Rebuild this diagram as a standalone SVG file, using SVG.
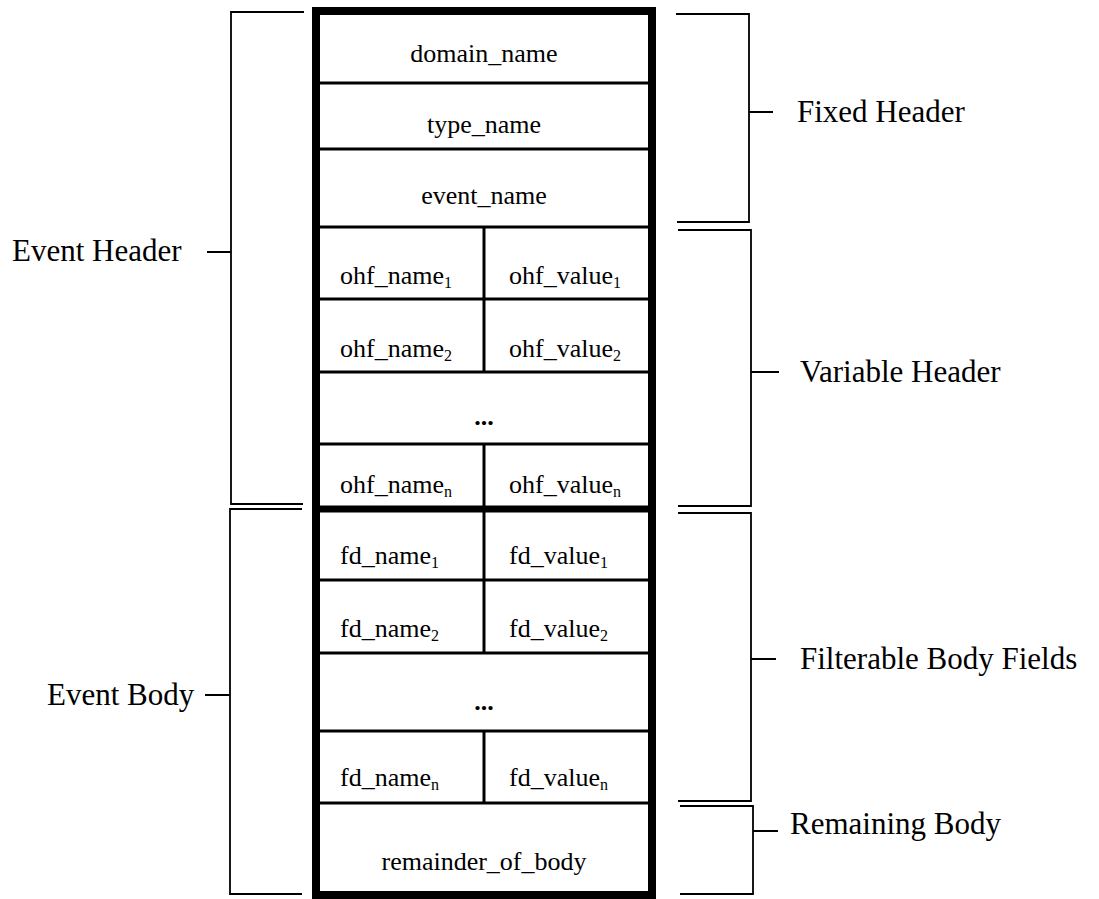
<svg xmlns="http://www.w3.org/2000/svg" width="1099" height="899" viewBox="0 0 1099 899">
<style>
.cell{font-family:"Liberation Serif","Times New Roman",serif;font-size:26px;fill:#000}
.lbl{font-family:"Liberation Serif","Times New Roman",serif;font-size:31px;fill:#000}
.sub{font-size:16px}
.dots{font-weight:bold}
.thin{stroke:#000;stroke-width:3;fill:none}
.br{stroke:#000;stroke-width:1.8;fill:none}
</style>
<rect width="1099" height="899" fill="#fff"/>
<g id="record">
<rect x="316" y="11" width="336" height="884" fill="#fff" stroke="#000" stroke-width="8"/>
<line class="thin" x1="316" y1="83" x2="652" y2="83"/>
<line class="thin" x1="316" y1="149" x2="652" y2="149"/>
<line class="thin" x1="316" y1="227" x2="652" y2="227"/>
<line class="thin" x1="316" y1="299" x2="652" y2="299"/>
<line class="thin" x1="316" y1="372" x2="652" y2="372"/>
<line class="thin" x1="316" y1="444" x2="652" y2="444"/>
<line x1="316" y1="509" x2="652" y2="509" stroke="#000" stroke-width="7"/>
<line class="thin" x1="316" y1="580" x2="652" y2="580"/>
<line class="thin" x1="316" y1="653" x2="652" y2="653"/>
<line class="thin" x1="316" y1="731" x2="652" y2="731"/>
<line class="thin" x1="316" y1="803" x2="652" y2="803"/>
<line class="thin" x1="484" y1="227" x2="484" y2="372"/>
<line class="thin" x1="484" y1="444" x2="484" y2="653"/>
<line class="thin" x1="484" y1="731" x2="484" y2="803"/>
</g>
<g id="fixed-fields">
<text class="cell" x="484" y="62" text-anchor="middle">domain_name</text>
<text class="cell" x="484" y="133" text-anchor="middle">type_name</text>
<text class="cell" x="484" y="204" text-anchor="middle">event_name</text>
</g>
<g id="ohf-fields">
<text class="cell" x="340" y="284">ohf_name<tspan class="sub" dy="4">1</tspan></text>
<text class="cell" x="509" y="284">ohf_value<tspan class="sub" dy="4">1</tspan></text>
<text class="cell" x="340" y="357">ohf_name<tspan class="sub" dy="4">2</tspan></text>
<text class="cell" x="509" y="357">ohf_value<tspan class="sub" dy="4">2</tspan></text>
<text class="cell dots" x="484" y="425" text-anchor="middle">...</text>
<text class="cell" x="340" y="493">ohf_name<tspan class="sub" dy="4">n</tspan></text>
<text class="cell" x="509" y="493">ohf_value<tspan class="sub" dy="4">n</tspan></text>
</g>
<g id="fd-fields">
<text class="cell" x="340" y="564">fd_name<tspan class="sub" dy="4">1</tspan></text>
<text class="cell" x="509" y="564">fd_value<tspan class="sub" dy="4">1</tspan></text>
<text class="cell" x="340" y="637">fd_name<tspan class="sub" dy="4">2</tspan></text>
<text class="cell" x="509" y="637">fd_value<tspan class="sub" dy="4">2</tspan></text>
<text class="cell dots" x="484" y="710" text-anchor="middle">...</text>
<text class="cell" x="340" y="786">fd_name<tspan class="sub" dy="4">n</tspan></text>
<text class="cell" x="509" y="786">fd_value<tspan class="sub" dy="4">n</tspan></text>
</g>
<g id="remainder">
<text class="cell" x="484" y="870" text-anchor="middle">remainder_of_body</text>
</g>
<g id="connectors">
<path class="br" d="M304,12 H231 V504 H303 M207,252 H231"/>
<path class="br" d="M302,509 H230 V894 H302 M205,695 H230"/>
<path class="br" d="M676,14 H749 V222 H677 M749,112 H773"/>
<path class="br" d="M678,230 H751 V506 H678 M751,372 H779"/>
<path class="br" d="M678,513 H751 V801 H678 M751,659 H776"/>
<path class="br" d="M680,806 H753 V894 H680 M753,831 H778"/>
</g>
<g id="labels">
<text class="lbl" x="12" y="261">Event Header</text>
<text class="lbl" x="47" y="705">Event Body</text>
<text class="lbl" x="797" y="122">Fixed Header</text>
<text class="lbl" x="800" y="382">Variable Header</text>
<text class="lbl" x="800" y="669">Filterable Body Fields</text>
<text class="lbl" x="790" y="834">Remaining Body</text>
</g>
</svg>
